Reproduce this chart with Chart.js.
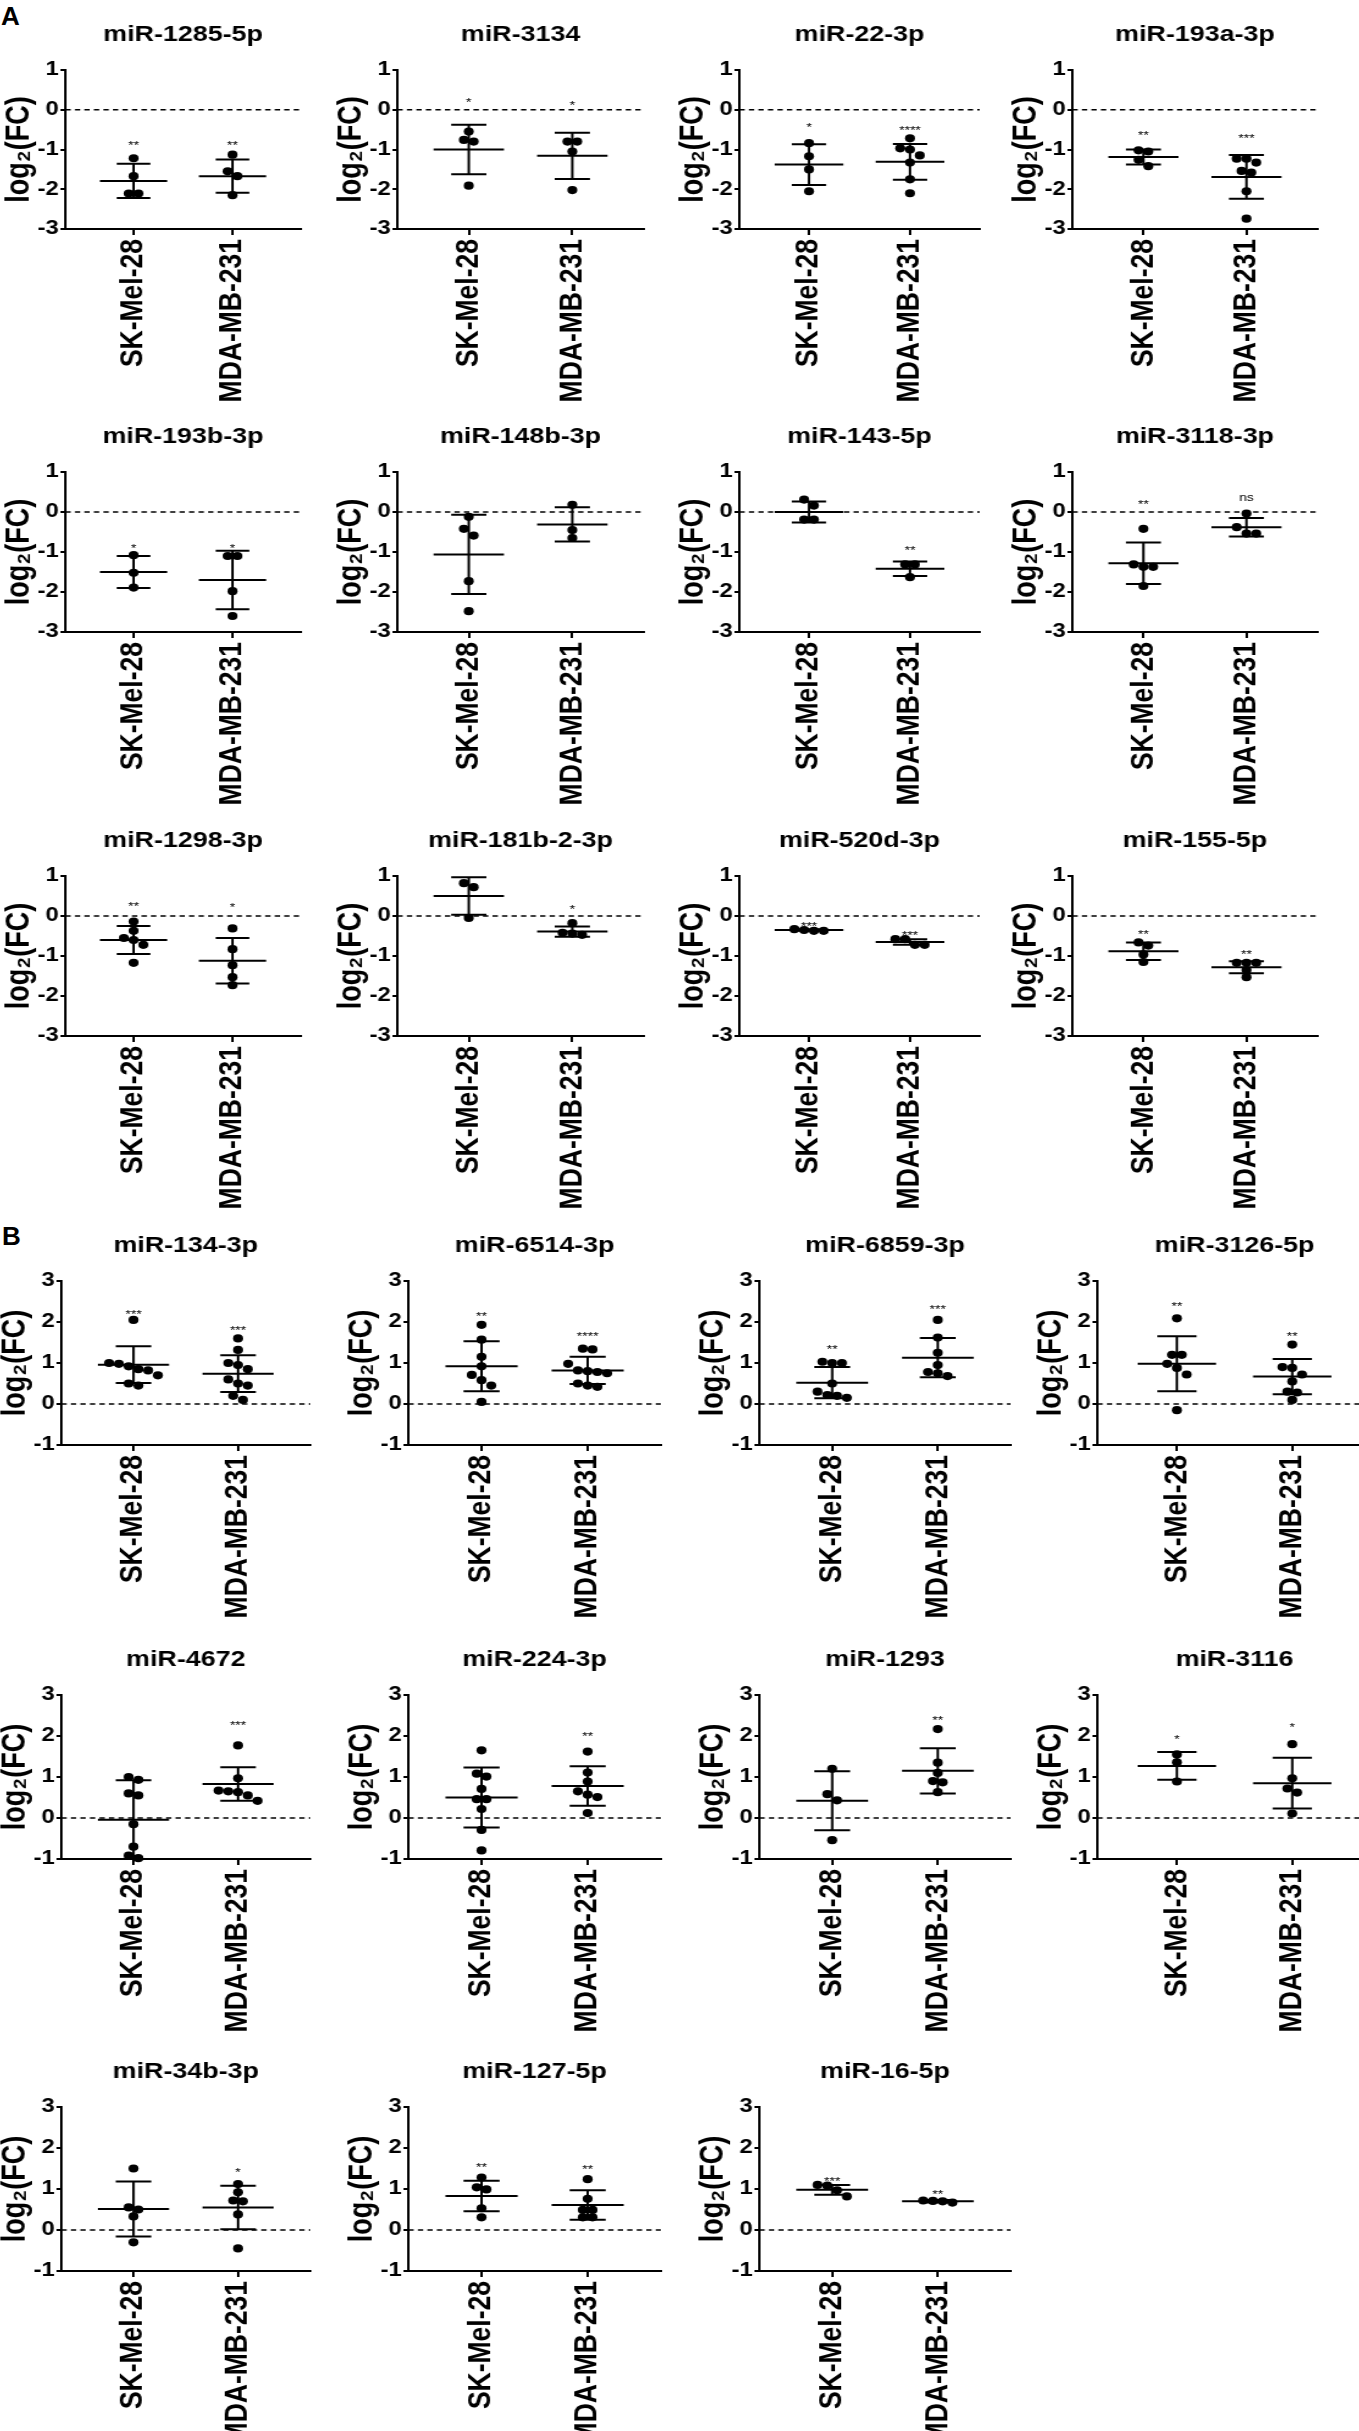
<!DOCTYPE html>
<html><head><meta charset="utf-8">
<script src="https://cdn.jsdelivr.net/npm/chart.js@4"></script>
<style>
html,body{margin:0;padding:0;background:#fff;overflow:hidden;width:1359px;height:2431px;position:relative;}
canvas{position:absolute;transform-origin:0 0;}
.lbl{position:absolute;font-family:'Liberation Sans',Arial,sans-serif;font-weight:bold;font-size:26px;line-height:26px;color:#000;}
</style></head><body>
<div class="lbl" style="left:1px;top:3px">A</div>
<div class="lbl" style="left:2px;top:1223px">B</div>
<script>
// ---------------- DATA ----------------
const groups = ['SK-Mel-28', 'MDA-MB-231'];
const panelNames = ['miR-1285-5p','miR-3134','miR-22-3p','miR-193a-3p',
  'miR-193b-3p','miR-148b-3p','miR-143-5p','miR-3118-3p',
  'miR-1298-3p','miR-181b-2-3p','miR-520d-3p','miR-155-5p',
  'miR-134-3p','miR-6514-3p','miR-6859-3p','miR-3126-5p',
  'miR-4672','miR-224-3p','miR-1293','miR-3116',
  'miR-34b-3p','miR-127-5p','miR-16-5p'];
const skValues = [
  [-1.22,-1.67,-2.11,-2.11],
  [-0.55,-0.76,-0.8,-1.91],
  [-0.84,-1.17,-1.5,-2.05],
  [-1.02,-1.05,-1.26,-1.42],
  [-1.08,-1.52,-1.89],
  [-0.12,-0.42,-0.59,-1.73,-2.48],
  [0.31,0.16,-0.19,-0.19],
  [-0.42,-1.31,-1.37,-1.37,-1.85],
  [-0.14,-0.37,-0.55,-0.6,-0.72,-1.17],
  [0.82,0.72,-0.05],
  [-0.33,-0.35,-0.37,-0.37],
  [-0.66,-0.74,-0.96,-1.15],
  [2.05,1.0,0.98,0.92,0.85,0.82,0.7,0.5,0.45],
  [1.93,1.57,1.15,0.92,0.71,0.58,0.45,0.05],
  [1.03,1.0,1.0,0.5,0.3,0.22,0.2,0.15],
  [2.09,1.2,1.2,0.98,0.88,0.72,-0.15],
  [1.0,0.93,0.6,0.55,-0.15,-0.7,-0.92,-0.98],
  [1.65,1.08,1.01,0.71,0.46,0.46,0.22,-0.29,-0.79],
  [1.2,0.58,0.43,-0.54],
  [1.55,1.36,0.89],
  [1.5,0.55,0.5,0.33,-0.3],
  [1.28,1.04,0.99,0.53,0.31],
  [1.1,1.08,0.97,0.82]
];
const mdaValues = [
  [-1.13,-1.55,-1.67,-2.15],
  [-0.8,-0.8,-1.05,-2.02],
  [-0.72,-0.97,-1.0,-1.15,-1.33,-1.75,-2.1],
  [-1.23,-1.23,-1.33,-1.54,-1.58,-2.05,-2.74],
  [-1.1,-1.1,-1.98,-2.6],
  [0.18,-0.45,-0.65],
  [-1.31,-1.31,-1.63],
  [-0.04,-0.38,-0.54,-0.54],
  [-0.31,-0.83,-1.23,-1.53,-1.73],
  [-0.18,-0.42,-0.44,-0.47],
  [-0.58,-0.58,-0.72,-0.72],
  [-1.17,-1.17,-1.17,-1.35,-1.53],
  [1.6,1.32,1.0,0.95,0.85,0.6,0.5,0.45,0.2,0.1],
  [1.35,1.33,0.98,0.82,0.8,0.78,0.75,0.5,0.45,0.42],
  [2.05,1.62,1.25,0.95,0.78,0.75,0.68],
  [1.45,0.9,0.88,0.72,0.55,0.3,0.28,0.1],
  [1.77,0.97,0.67,0.65,0.63,0.55,0.42],
  [1.62,1.11,0.89,0.65,0.57,0.51,0.12],
  [2.17,1.35,1.1,0.9,0.87,0.63],
  [1.8,0.97,0.72,0.62,0.11],
  [1.12,0.92,0.72,0.7,0.38,-0.45],
  [1.24,0.76,0.49,0.49,0.31,0.31],
  [0.72,0.71,0.7,0.67]
];
const skMean = [-1.79,-1.0,-1.38,-1.19,-1.5,-1.06,0.0,-1.28,-0.6,0.5,-0.35,-0.88,0.96,0.92,0.52,0.98,-0.04,0.5,0.42,1.27,0.51,0.83,0.98];
const skSD   = [0.43,0.62,0.51,0.19,0.4,0.99,0.26,0.52,0.35,0.47,0.02,0.22,0.45,0.61,0.38,0.67,0.96,0.73,0.72,0.34,0.67,0.37,0.12];
const mdaMean = [-1.67,-1.16,-1.31,-1.69,-1.7,-0.31,-1.42,-0.38,-1.12,-0.39,-0.65,-1.28,0.74,0.82,1.13,0.67,0.83,0.78,1.15,0.85,0.55,0.61,0.7];
const mdaSD   = [0.42,0.58,0.45,0.55,0.73,0.43,0.18,0.23,0.57,0.13,0.07,0.15,0.45,0.33,0.48,0.43,0.41,0.48,0.55,0.62,0.53,0.36,0.03];
const skSig  = ['**','*','*','**','*','','','**','**','','***','**','***','**','**','**','','','','*','','**','***'];
const mdaSig = ['**','*','****','***','*','','**','ns','*','*','***','**','***','****','***','**','***','**','**','*','*','**','**'];
const skSigY  = [-0.83,0.26,-0.38,-0.58,-0.84,null,null,0.26,0.3,null,-0.2,-0.39,2.26,2.2,1.39,2.45,null,null,null,1.98,null,1.6,1.25];
const mdaSigY = [-0.83,0.18,-0.45,-0.66,-0.84,null,-0.9,0.35,0.28,0.22,-0.41,-0.89,1.87,1.72,2.37,1.7,2.33,2.05,2.45,2.27,1.47,1.54,0.94];
const yRangeA = [-3, 1];
const yRangeB = [-1, 3];
const yTitle = 'log\u2082(FC)';

// ---------------- LAYOUT ----------------
const FF = "'Liberation Sans', Arial, Helvetica, sans-serif";
const SX = 1.22;                      // horizontal stretch of the original figure
const rowTops = [70, 472, 876, 1281, 1695, 2107];
const rowH = [159, 160, 160, 164, 164, 164];
const colAxisA = [65, 397, 739, 1072], colRightA = [301, 643, 979, 1317];
const colAxisB = [61, 408, 759, 1097], colRightB = [310, 661, 1010, 1371];
const XPAD = 0.69;

function swarmOffsets(vals, pyu, pxu) {
  const dy = 8, dx = 8;
  const idx = vals.map((v, i) => i).sort((a, b) => vals[b] - vals[a]);
  const clusters = []; let cur = [idx[0]];
  for (let k = 1; k < idx.length; k++) {
    if ((vals[idx[k - 1]] - vals[idx[k]]) * pyu < dy * 0.85) cur.push(idx[k]);
    else { clusters.push(cur); cur = [idx[k]]; }
  }
  clusters.push(cur);
  const off = new Array(vals.length).fill(0);
  clusters.forEach(c => {
    const n = c.length;
    if (n < 2) return;
    c.forEach((id, j) => { off[id] = (j - (n - 1) / 2) * dx / pxu; });
  });
  return off;
}

function barData(g, m, sd) {
  return [
    {x: g - 0.34, y: m}, {x: g + 0.34, y: m}, {x: g, y: null},
    {x: g - 0.17, y: m + sd}, {x: g + 0.17, y: m + sd}, {x: g, y: null},
    {x: g - 0.17, y: m - sd}, {x: g + 0.17, y: m - sd}, {x: g, y: null},
    {x: g, y: m + sd}, {x: g, y: m - sd}
  ];
}

const titlePlugin = {
  id: 'ptitle',
  afterDraw(chart, args, opts) {
    const {ctx, chartArea: a} = chart;
    ctx.save();
    ctx.font = 'bold 22px ' + FF;
    ctx.textAlign = 'center'; ctx.textBaseline = 'middle'; ctx.fillStyle = '#000';
    ctx.fillText(opts.text, (a.left + a.right) / 2, a.top - 35);
    ctx.restore();
  }
};
const sigPlugin = {
  id: 'sig',
  afterDatasetsDraw(chart, args, opts) {
    const {ctx} = chart; const xs = chart.scales.x, ys = chart.scales.y;
    ctx.save();
    ctx.font = '11.5px ' + FF; ctx.textAlign = 'center'; ctx.textBaseline = 'middle'; ctx.fillStyle = '#000';
    opts.labels.forEach((t, g) => {
      if (!t || opts.levels[g] === null) return;
      const dy = t === 'ns' ? 0 : 3;
      ctx.fillText(t, xs.getPixelForValue(g), ys.getPixelForValue(opts.levels[g]) + dy);
    });
    ctx.restore();
  }
};

function makeChart(i) {
  const isA = i < 12;
  const row = isA ? Math.floor(i / 4) : 3 + Math.floor((i - 12) / 4);
  const col = isA ? i % 4 : (i - 12) % 4;
  const axisX = isA ? colAxisA[col] : colAxisB[col];
  const rightX = isA ? colRightA[col] : colRightB[col];
  const top = rowTops[row], h = rowH[row];
  const YW = 56, PT = 60, PR = 16, XH = 195;
  const plotWc = (rightX - axisX) / SX;
  const W = Math.round(YW + plotWc + PR), H = PT + h + XH;
  const cv = document.createElement('canvas');
  cv.width = W; cv.height = H;
  cv.style.left = (axisX - YW * SX) + 'px'; cv.style.top = (top - PT) + 'px';
  cv.style.width = W + 'px'; cv.style.height = H + 'px';
  cv.style.transform = 'scaleX(' + SX + ')';
  document.body.appendChild(cv);
  const yr = isA ? yRangeA : yRangeB;
  const pyu = h / (yr[1] - yr[0]);
  const pxu = plotWc / (1 + 2 * XPAD);
  const vals = [skValues[i], mdaValues[i]];
  const means = [skMean[i], mdaMean[i]], sds = [skSD[i], mdaSD[i]];
  const datasets = [];
  vals.forEach((v, g) => {
    const off = swarmOffsets(v, pyu, pxu);
    datasets.push({
      data: v.map((y, k) => ({x: g + off[k], y})),
      pointRadius: 4.1, pointBackgroundColor: '#000', pointBorderWidth: 0,
      pointBorderColor: '#000', showLine: false, order: 1, clip: false
    });
  });
  means.forEach((m, g) => {
    datasets.push({
      data: barData(g, m, sds[g]), showLine: true, spanGaps: false,
      borderColor: '#000', borderWidth: 2, pointRadius: 0, order: 2, clip: false,
      borderCapStyle: 'butt'
    });
  });
  datasets.push({
    data: [{x: -XPAD, y: 0}, {x: 1 + XPAD, y: 0}], showLine: true,
    borderColor: '#000', borderWidth: 1.6, borderDash: [4.4, 3.4], pointRadius: 0, order: 3
  });
  new Chart(cv, {
    type: 'scatter',
    data: {datasets},
    options: {
      responsive: false, animation: false, events: [], devicePixelRatio: 1,
      layout: {padding: {top: PT, right: PR, left: 0, bottom: 0}},
      plugins: {
        legend: {display: false}, tooltip: {enabled: false},
        ptitle: {text: panelNames[i]},
        sig: {labels: [skSig[i], mdaSig[i]], levels: [skSigY[i], mdaSigY[i]]}
      },
      scales: {
        x: {
          type: 'linear', min: -XPAD, max: 1 + XPAD,
          afterBuildTicks: s => { s.ticks = [{value: 0}, {value: 1}]; },
          afterFit: s => { s.height = XH; },
          ticks: {
            callback: v => groups[v] !== undefined ? groups[v] : '',
            minRotation: 90, maxRotation: 90, autoSkip: false, padding: 4,
            color: '#000', font: {family: FF, size: 26.5, weight: 'bold'}
          },
          grid: {display: true, drawOnChartArea: false, drawTicks: true, tickLength: 6, color: '#000', lineWidth: 2},
          border: {display: true, color: '#000', width: 2}
        },
        y: {
          type: 'linear', min: yr[0], max: yr[1],
          afterFit: s => { s.width = YW; },
          ticks: {stepSize: 1, color: '#000', padding: 1.5, font: {family: FF, size: 19.5, weight: 'bold'}},
          grid: {display: true, drawOnChartArea: false, drawTicks: true, tickLength: 4, color: '#000', lineWidth: 2},
          border: {display: true, color: '#000', width: 2},
          title: {display: true, text: yTitle, color: '#000', font: {family: FF, size: 27, weight: 'bold'}, padding: {top: 2, bottom: 0}}
        }
      }
    },
    plugins: [titlePlugin, sigPlugin]
  });
}
for (let i = 0; i < panelNames.length; i++) makeChart(i);
</script>
</body></html>
